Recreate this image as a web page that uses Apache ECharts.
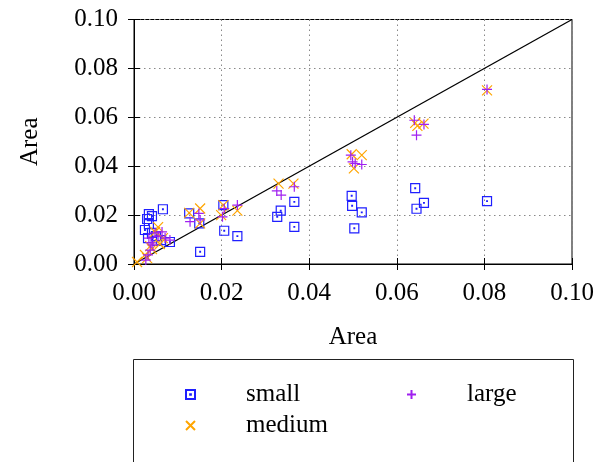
<!DOCTYPE html>
<html>
<head>
<meta charset="utf-8">
<script src="https://cdn.jsdelivr.net/npm/echarts@6/dist/echarts.min.js"></script>
<style>
  html, body { margin: 0; padding: 0; background: #fff; }
  #chart { width: 597px; height: 462px; }
</style>
</head>
<body>
<div id="chart"></div>
<script>
// Axis ticks (both axes share the same range)
const tickValues = [0, 0.02, 0.04, 0.06, 0.08, 0.10];

// [area A, area B] pairs per size class
const smallPts = [
  [0.0806, 0.0257], [0.0642, 0.0310], [0.0662, 0.0250], [0.0645, 0.0226],
  [0.0497, 0.0279], [0.0498, 0.0238], [0.0520, 0.0211], [0.0503, 0.0146],
  [0.0366, 0.0254], [0.0335, 0.0218], [0.0327, 0.0193], [0.0366, 0.0152],
  [0.0126, 0.0207], [0.0149, 0.0166], [0.0204, 0.0241], [0.0206, 0.0136],
  [0.0236, 0.0114], [0.0151, 0.0050],
  [0.0066, 0.0224], [0.0034, 0.0204], [0.0041, 0.0196], [0.0030, 0.0184],
  [0.0034, 0.0163], [0.0025, 0.0139], [0.0041, 0.0127], [0.0032, 0.0106],
  [0.0050, 0.0114], [0.0062, 0.0098], [0.0082, 0.0090], [0.0053, 0.0094]
];
const mediumPts = [
  [0.0806, 0.0710], [0.0642, 0.0577], [0.0661, 0.0574], [0.0647, 0.0565],
  [0.0497, 0.0449], [0.0520, 0.0445], [0.0502, 0.0391],
  [0.0330, 0.0329], [0.0364, 0.0329],
  [0.0126, 0.0209], [0.0151, 0.0227], [0.0151, 0.0166], [0.0204, 0.0241],
  [0.0236, 0.0218], [0.0199, 0.0200],
  [0.0007, 0.0008], [0.0030, 0.0024], [0.0037, 0.0073], [0.0048, 0.0131],
  [0.0055, 0.0151], [0.0066, 0.0106], [0.0025, 0.0037], [0.0041, 0.0061],
  [0.0059, 0.0082]
];
const largePts = [
  [0.0806, 0.0714], [0.0640, 0.0588], [0.0662, 0.0571], [0.0645, 0.0527],
  [0.0495, 0.0445], [0.0499, 0.0418], [0.0505, 0.0411], [0.0520, 0.0407],
  [0.0366, 0.0316], [0.0326, 0.0299], [0.0336, 0.0282],
  [0.0128, 0.0173], [0.0148, 0.0207], [0.0206, 0.0227], [0.0236, 0.0241],
  [0.0202, 0.0193], [0.0151, 0.0180],
  [0.0032, 0.0037], [0.0037, 0.0057], [0.0039, 0.0086], [0.0034, 0.0106],
  [0.0048, 0.0127], [0.0055, 0.0114], [0.0071, 0.0106], [0.0064, 0.0131],
  [0.0082, 0.0098], [0.0027, 0.0016], [0.0043, 0.0078]
];
// y = x reference line
const diagonal = [[0, 0], [0.1, 0.1]];

const seriesNames = ['small', 'medium', 'large'];

const FONT = 'Liberation Serif';
const FS = 25;
const BLUE = '#1f1fff', ORANGE = '#ffa500', PURPLE = '#a020f0';

const SYM_SQUARE = 'path://M0,0H10V10H0Z M4.6,4.6H5.4V5.4H4.6Z';
const SYM_CROSS = 'path://M0,0L10,10M10,0L0,10';
const SYM_PLUS = 'path://M5,0V10M0,5H10';

function markSeries(name, pts, sym, color, size) {
  return {
    name, type: 'scatter', data: pts,
    symbol: sym, symbolSize: size,
    itemStyle: { color: 'rgba(0,0,0,0)', borderColor: color, borderWidth: 1.2, opacity: 1 },
    emphasis: { disabled: true },
    animation: false
  };
}

const axisCommon = {
  type: 'value', min: 0, max: 0.1, interval: 0.02,
  axisLine: { show: true, lineStyle: { color: '#000', width: 1 } },
  axisTick: { show: true, inside: true, length: 6, lineStyle: { color: '#000' } },
};
const labelStyle = { color: '#000', fontFamily: FONT, fontSize: FS };
const fmt = v => v.toFixed(2);

function legendBlock(names, left, top, icons) {
  return {
    data: names.map((n, i) => ({ name: n, icon: icons[i] })),
    orient: 'vertical', left, top,
    itemWidth: 9, itemHeight: 9, itemGap: 6,
    selectedMode: false,
    textStyle: { fontFamily: FONT, fontSize: FS, color: '#000', lineHeight: 24, padding: [0, 0, 0, 46] }
  };
}

const chart = echarts.init(document.getElementById('chart'), null, { renderer: 'canvas' });
chart.setOption({
  backgroundColor: '#fff',
  animation: false,
  grid: { left: 134, right: 25, top: 19.5, bottom: 198, show: true, borderColor: '#000', borderWidth: 1 },
  xAxis: [
    Object.assign({}, axisCommon, {
      position: 'bottom',
      name: 'Area', nameLocation: 'middle', nameGap: 61,
      nameTextStyle: labelStyle,
      axisLabel: Object.assign({ margin: 17, formatter: fmt }, labelStyle),
      splitLine: { show: true, lineStyle: { color: '#888', type: [1.5, 3.5], width: 1 } }
    }),
    Object.assign({}, axisCommon, {
      position: 'top', axisLabel: { show: false }, splitLine: { show: false }
    })
  ],
  yAxis: [
    Object.assign({}, axisCommon, {
      position: 'left',
      name: 'Area', nameLocation: 'middle', nameGap: 91,
      nameTextStyle: labelStyle,
      axisLabel: Object.assign({ margin: 16, formatter: fmt }, labelStyle),
      splitLine: { show: true, lineStyle: { color: '#888', type: [1.5, 3.5], width: 1 } }
    }),
    Object.assign({}, axisCommon, {
      position: 'right', axisLabel: { show: false }, splitLine: { show: false }
    })
  ],
  legend: [
    legendBlock([seriesNames[0], seriesNames[1]], 180, 377, [SYM_SQUARE, SYM_CROSS]),
    legendBlock([seriesNames[2]], 401, 377, [SYM_PLUS])
  ],
  graphic: [{
    type: 'rect', shape: { x: 133.5, y: 359.5, width: 440, height: 120 },
    style: { fill: 'none', stroke: '#222', lineWidth: 1 }, silent: true
  }],
  series: [
    {
      type: 'line', data: diagonal, symbol: 'none', silent: true,
      lineStyle: { color: '#000', width: 1.3 }, z: 1
    },
    markSeries(seriesNames[0], smallPts, SYM_SQUARE, BLUE, 9),
    markSeries(seriesNames[1], mediumPts, SYM_CROSS, ORANGE, 10),
    markSeries(seriesNames[2], largePts, SYM_PLUS, PURPLE, 10)
  ]
});
</script>
</body>
</html>
